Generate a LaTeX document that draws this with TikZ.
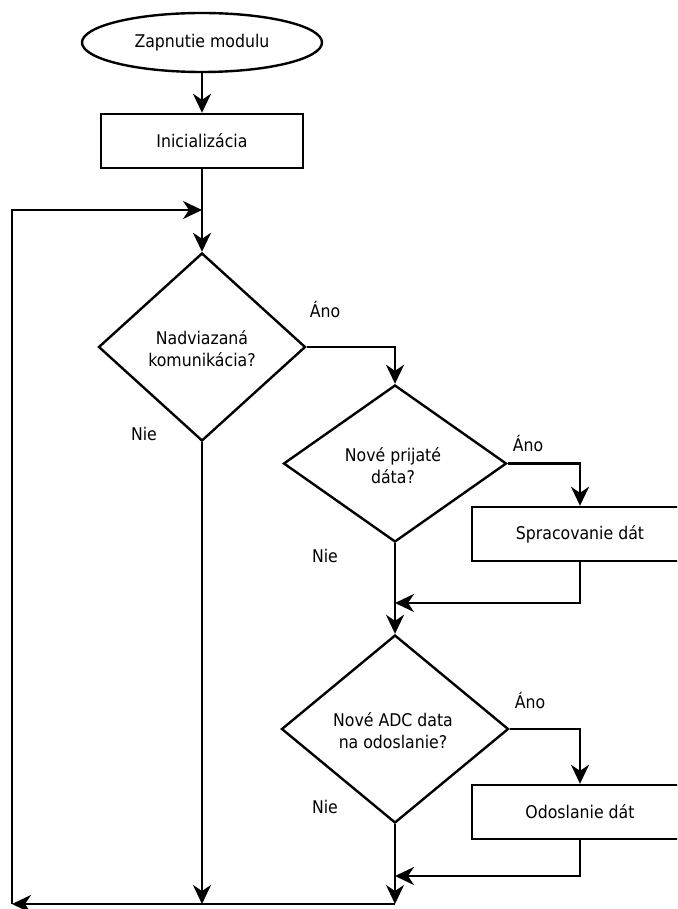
\documentclass[tikz,border=0pt]{standalone}
\usepackage{fontspec}
\setmainfont{DejaVu Sans Condensed}
\usetikzlibrary{shapes.geometric,arrows.meta}
\begin{document}
\begin{tikzpicture}[x=1pt,y=-1pt,
  every node/.style={font=\fontsize{17.5}{22}\selectfont, inner sep=0pt},
  box/.style={draw, line width=2.4pt, rectangle, minimum width=#1, minimum height=54pt},
  box/.default=202pt,
  dec/.style={draw, line width=2.4pt, diamond, minimum width=#1},
  term/.style={draw, line width=2.4pt, ellipse, minimum width=240pt, minimum height=59pt},
  conn/.style={line width=2.4pt, -{Stealth[length=19pt,width=18pt,inset=6pt]}},
  lbl/.style={font=\fontsize{17.5}{22}\selectfont}
]
\useasboundingbox (0,0) rectangle (677,909);
\clip (0,0) rectangle (677,909);

\node[term] (start) at (202,42.5) {Zapnutie modulu};
\node[box] (init) at (202,141) {Inicializácia};
\node[dec=207pt, minimum height=188pt] (d1) at (202,347) {};
\node[align=center] (t1) at (202,349) {Nadviazaná\\komunikácia?};
\node[dec=223pt, minimum height=157pt] (d2) at (395,463.5) {};
\node[align=center] (t2) at (393,466) {Nové prijaté\\dáta?};
\node[box=216pt] (r2) at (580,534) {Spracovanie dát};
\node[dec=227pt, minimum height=188pt] (d3) at (395,729) {};
\node[align=center] (t3) at (393,731) {Nové ADC data\\na odoslanie?};
\node[box=216pt] (r3) at (580,812) {Odoslanie dát};

\node[lbl] (a1) at (325,310) {Áno};
\node[lbl] (n1) at (144,434) {Nie};
\node[lbl] (a2) at (528,444) {Áno};
\node[lbl] (n2) at (325,556) {Nie};
\node[lbl] (a3) at (530,701) {Áno};
\node[lbl] (n3) at (325,807) {Nie};

\coordinate (j1) at (202,210);
\coordinate (j2) at (395,603);
\coordinate (j3) at (395,876);
\coordinate (j4) at (395,904);
\coordinate (j5) at (202,904);
\coordinate (bl) at (12,904);

\draw[conn] (start) -- (init);
\draw[conn] (init) -- (d1.north);
\draw[conn] (d1.east) -| (d2.north);
\draw[conn] (d2.east) -| (r2.north);
\draw[conn] (r2.south) |- (j2);
\draw[conn] (d2.south) -- (d3.north);
\draw[conn] (d3.east) -| (r3.north);
\draw[conn] (r3.south) |- (j3);
\draw[conn] (d3.south) -- (j4);
\draw[conn] (d1.south) -- (j5);
\draw[conn] (j4) -- (bl);
\draw[conn] (bl) |- (j1);
\end{tikzpicture}
\end{document}
